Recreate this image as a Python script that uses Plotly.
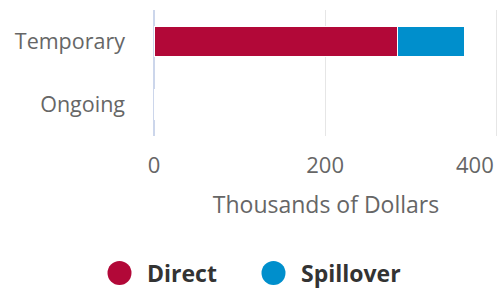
import plotly.graph_objects as go

categories = ["Temporary", "Ongoing"]
direct = [284, 0]
spillover = [79, 0]
series_names = ["Direct", "Spillover"]
colors = ["#B20838", "#008FCC"]
tick_vals = [0, 200, 400]
tick_text = ["0", "200", "400"]

font_family = "Open Sans, Noto Sans, sans-serif"

W, H = 502, 290
ML, MR, MT, MB = 154, 4, 10, 154
PW, PH = W - ML - MR, H - MT - MB


def px_to_paper_x(px):
    return (px - ML) / PW


def px_to_paper_y(py):
    return (H - MB - py) / PH


fig = go.Figure()
for name, vals, col in zip(series_names, [direct, spillover], colors):
    fig.add_trace(go.Bar(
        y=categories, x=vals, orientation="h", name=name,
        marker=dict(color=col, line=dict(color="white", width=1)),
        showlegend=False,
    ))

# Custom legend (large circle markers + bold labels)
legend_circle_px = [119.5, 273.5]
legend_text_px = [145, 299]
legend_y_px = 273
shapes = []
annotations = []
for name, col, cx, tx in zip(series_names, colors, legend_circle_px, legend_text_px):
    shapes.append(dict(
        type="circle", xref="paper", yref="paper",
        xsizemode="pixel", ysizemode="pixel",
        xanchor=px_to_paper_x(cx), yanchor=px_to_paper_y(legend_y_px),
        x0=-12, x1=12, y0=-12, y1=12,
        fillcolor=col, line=dict(width=0),
    ))
    annotations.append(dict(
        x=px_to_paper_x(tx), y=px_to_paper_y(legend_y_px), xref="paper", yref="paper",
        xanchor="left", yanchor="middle", showarrow=False, text=f"<b>{name}</b>",
        font=dict(size=23, color="#333333", family=font_family),
    ))

annotations.append(dict(
    x=400, xref="x", y=0, yref="paper", yanchor="top", xanchor="right",
    text=tick_text[2], showarrow=False, xshift=0, yshift=-11,
    font=dict(size=22, color="#666666", family=font_family),
))

fig.update_layout(
    width=W, height=H,
    margin=dict(l=ML, r=MR, t=MT, b=MB, autoexpand=False),
    barmode="stack",
    bargap=0.52,
    plot_bgcolor="white", paper_bgcolor="white",
    font=dict(family=font_family, color="#666666", size=22),
    showlegend=False,
    xaxis=dict(
        range=[0, 402], tickvals=tick_vals,
        ticktext=[t if t != tick_text[2] else "" for t in tick_text],
        showgrid=True, gridcolor="#e6e6e6", gridwidth=1,
        zeroline=True, zerolinecolor="#ccd6eb", zerolinewidth=2,
        showline=False, ticks="", automargin=False,
        tickfont=dict(size=22, color="#666666"),
        ticklabelstandoff=14,
        title=dict(text="Thousands of Dollars", font=dict(size=23, color="#666666"), standoff=18),
        fixedrange=True,
    ),
    yaxis=dict(
        autorange="reversed", showgrid=False, zeroline=False, showline=False,
        ticks="", automargin=False,
        tickfont=dict(size=21.5, color="#666666"), ticklabelstandoff=28,
        fixedrange=True,
    ),
    shapes=shapes,
    annotations=annotations,
)

fig.write_html(
    "out.html",
    config={"displayModeBar": False},
    post_script="document.body.style.margin='0';document.body.style.overflow='hidden';",
)
